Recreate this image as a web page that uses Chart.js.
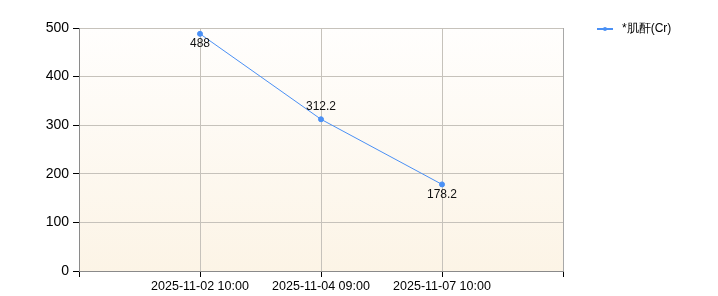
<!DOCTYPE html>
<html><head><meta charset="utf-8">
<script src="https://cdn.jsdelivr.net/npm/chart.js@4/dist/chart.umd.min.js"></script>
<style>html,body{margin:0;padding:0;background:#fff}#wrap{width:718px;height:296px}</style>
</head><body><div id="wrap"><canvas id="c" width="718" height="296"></canvas></div>
<script>
const categories = ['2025-11-02 10:00', '2025-11-04 09:00', '2025-11-07 10:00'];
const seriesName = '*肌酐(Cr)';
const creatinine = [488, 312.2, 178.2];
const yTicks = [0, 100, 200, 300, 400, 500];
const labelSides = ['below', 'above', 'below'];

const lineColor = '#4a90f5';
const FONT = '"Liberation Sans", Arial, sans-serif';

const bgPlugin = {
  id: 'bg',
  beforeDraw(chart) {
    const {ctx, chartArea: a} = chart;
    const g = ctx.createLinearGradient(0, a.top, 0, a.bottom);
    g.addColorStop(0, '#fffefd');
    g.addColorStop(1, '#fcf4e6');
    ctx.save();
    ctx.fillStyle = g;
    ctx.fillRect(a.left, a.top, a.right - a.left, a.bottom - a.top);
    ctx.restore();
  },
  afterDraw(chart) {
    const {ctx, chartArea: a} = chart;
    ctx.save();
    ctx.strokeStyle = '#a8a8a8';
    ctx.lineWidth = 1;
    ctx.beginPath();
    ctx.moveTo(a.right + 0.5, a.top);
    ctx.lineTo(a.right + 0.5, a.bottom);
    ctx.stroke();
    // legend
    const lx = 597, ly = 29;
    ctx.strokeStyle = lineColor;
    ctx.lineWidth = 2;
    ctx.beginPath(); ctx.moveTo(lx, ly); ctx.lineTo(lx + 16, ly); ctx.stroke();
    ctx.fillStyle = lineColor;
    ctx.beginPath(); ctx.arc(lx + 8, ly, 2, 0, Math.PI * 2); ctx.fill();
    ctx.fillStyle = '#000';
    ctx.font = '12px ' + FONT;
    ctx.textBaseline = 'middle';
    ctx.textAlign = 'left';
    ctx.fillText(seriesName, 622, ly);
    ctx.restore();
  }
};

const labelPlugin = {
  id: 'vlabels',
  afterDatasetsDraw(chart) {
    const {ctx} = chart;
    const meta = chart.getDatasetMeta(0);
    ctx.save();
    ctx.font = '12px ' + FONT;
    ctx.fillStyle = '#111';
    ctx.textAlign = 'center';
    ctx.textBaseline = 'middle';
    meta.data.forEach((pt, i) => {
      const dy = labelSides[i] === 'above' ? -13 : 10;
      ctx.fillText(String(creatinine[i]), pt.x, pt.y + dy);
    });
    ctx.restore();
  }
};

new Chart(document.getElementById('c'), {
  type: 'line',
  data: {
    datasets: [{
      label: seriesName,
      data: categories.map((c, i) => ({x: i, y: creatinine[i]})),
      borderColor: lineColor,
      backgroundColor: lineColor,
      borderWidth: 1,
      pointRadius: 2.5,
      pointHoverRadius: 2.5,
      tension: 0
    }]
  },
  options: {
    responsive: false,
    animation: false,
    events: [],
    layout: {padding: {left: 0, top: 28, right: 155, bottom: 0}},
    plugins: {legend: {display: false}, tooltip: {enabled: false}},
    scales: {
      x: {
        type: 'linear',
        min: -1, max: 3,
        afterBuildTicks(s) { s.ticks = [-1, 0, 1, 2, 3].map(v => ({value: v})); },
        afterFit(s) { s.height = 25; },
        ticks: {
          autoSkip: false, maxRotation: 0,
          color: '#000',
          font: {family: FONT, size: 12.5},
          padding: 2,
          callback: v => (categories[v] !== undefined ? categories[v] : '')
        },
        grid: {color: '#c6c2bb', tickColor: '#000', tickLength: 6, drawOnChartArea: true},
        border: {color: '#8a8a8a', width: 1}
      },
      y: {
        min: 0, max: 500,
        afterBuildTicks(s) { s.ticks = yTicks.map(v => ({value: v})); },
        afterFit(s) { s.width = 79; },
        ticks: {
          color: '#000',
          font: {family: FONT, size: 14},
          padding: 4
        },
        grid: {color: '#c6c2bb', tickColor: '#000', tickLength: 6},
        border: {color: '#8a8a8a', width: 1}
      }
    }
  },
  plugins: [bgPlugin, labelPlugin]
});
</script></body></html>
